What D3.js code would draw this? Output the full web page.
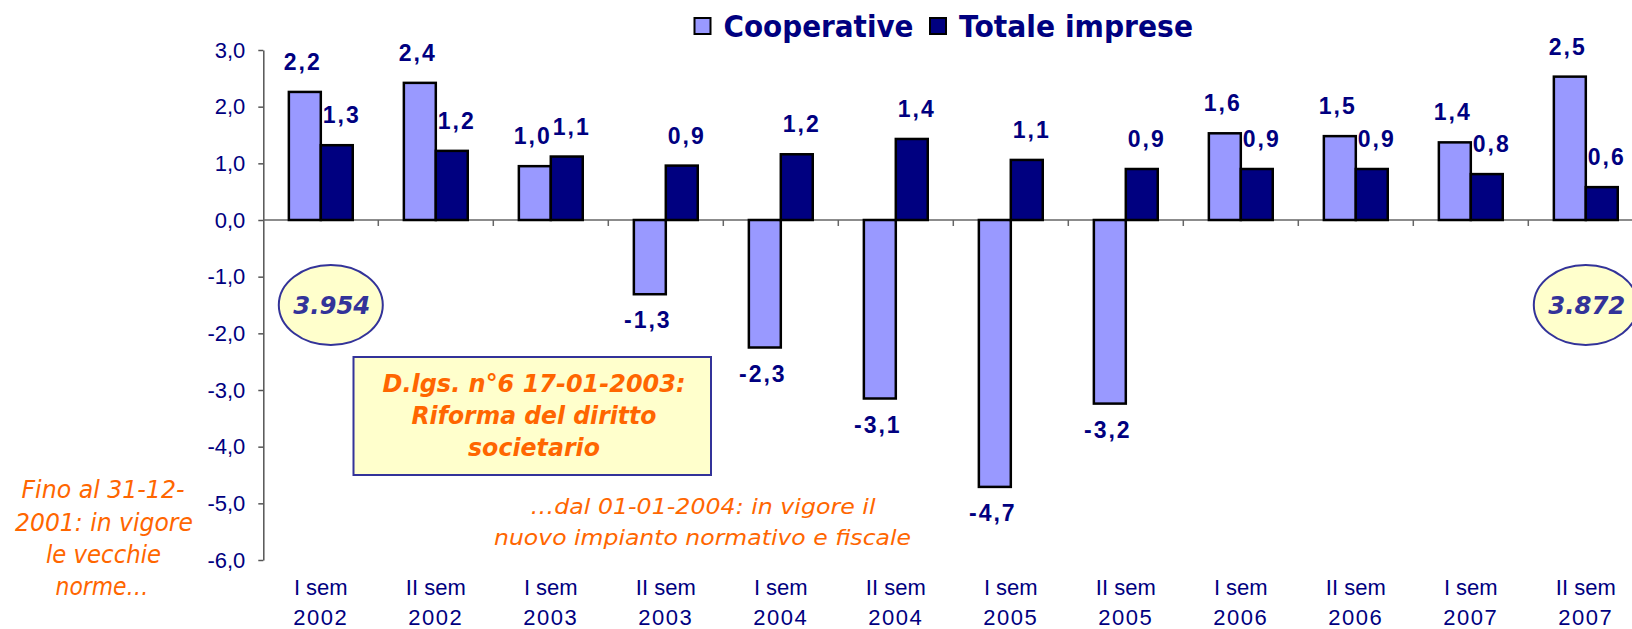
<!DOCTYPE html>
<html>
<head>
<meta charset="utf-8">
<script src="https://cdn.jsdelivr.net/npm/d3@7"></script>
<style>
  body { margin: 0; background: #fff; overflow: hidden; }
</style>
</head>
<body>
<script>
// data
const categories = ["I sem 2002", "II sem 2002", "I sem 2003", "II sem 2003", "I sem 2004", "II sem 2004",
                    "I sem 2005", "II sem 2005", "I sem 2006", "II sem 2006", "I sem 2007", "II sem 2007"]
const series = ["Cooperative", "Totale imprese"]
const cooperative = [2.26, 2.42, 0.95, -1.31, -2.25, -3.15, -4.71, -3.24, 1.53, 1.48, 1.37, 2.53]
const totale = [1.32, 1.22, 1.12, 0.96, 1.16, 1.43, 1.06, 0.90, 0.90, 0.90, 0.81, 0.58]
const coopLabels = ["2,2", "2,4", "1,0", "-1,3", "-2,3", "-3,1", "-4,7", "-3,2", "1,6", "1,5", "1,4", "2,5"]
const totLabels = ["1,3", "1,2", "1,1", "0,9", "1,2", "1,4", "1,1", "0,9", "0,9", "0,9", "0,8", "0,6"]
const yTicks = [3, 2, 1, 0, -1, -2, -3, -4, -5, -6]
const counts = ["3.954", "3.872"]

const w = 1632
const h = 629
const navy = "#000080"
const orange = "#FF6600"
const colors = ["#9999FF", "#000080"]

const svg = d3.select("body")
  .append("svg")
  .attr("width", w)
  .attr("height", h)
  .style("background-color", "#fff")

//scales
const xScale = d3.scaleBand()
  .domain(categories)
  .range([263.3, 263.3 + 115 * categories.length])

const xSub = d3.scaleBand()
  .domain(series)
  .range([0, xScale.bandwidth()])
  .paddingOuter(0.8)

const yScale = d3.scaleLinear()
  .domain([-6, 3])
  .range([560, 50])

//Y-Axis
const yAxis = d3.axisLeft(yScale)
  .tickValues(yTicks)
  .tickSize(5)
  .tickSizeOuter(0)
  .tickPadding(13)
  .tickFormat(d => d3.format(".1f")(d).replace("\u2212", "-").replace(".", ","))

const gy = svg.append("g")
  .attr("transform", "translate(" + xScale.range()[0] + ",0)")
  .call(yAxis)
gy.select(".domain").attr("stroke", "#555").attr("stroke-width", 1.5)
gy.selectAll(".tick line").attr("stroke", "#555").attr("stroke-width", 1.5)
gy.selectAll(".tick text")
  .attr("fill", navy)
  .style("font-family", "'Liberation Sans', Arial, sans-serif")
  .style("font-size", "22px")

//X-Axis line at zero
const y0 = yScale(0)
svg.append("line")
  .attr("x1", xScale.range()[0]).attr("x2", xScale.range()[1])
  .attr("y1", y0).attr("y2", y0)
  .attr("stroke", "#666").attr("stroke-width", 1.5)

svg.selectAll(".xtick")
  .data(categories.slice(1))
  .enter()
  .append("line")
  .attr("class", "xtick")
  .attr("x1", d => xScale(d)).attr("x2", d => xScale(d))
  .attr("y1", y0).attr("y2", y0 + 6)
  .attr("stroke", "#666").attr("stroke-width", 1.5)

//category labels, two lines
const labStyle = sel => sel
  .attr("text-anchor", "middle")
  .attr("fill", navy)
  .style("font-family", "'Liberation Sans', Arial, sans-serif")
  .style("font-size", "22px")

svg.selectAll(".xsem")
  .data(categories)
  .enter()
  .append("text")
  .attr("class", "xsem")
  .call(labStyle)
  .attr("x", d => xScale(d) + xScale.bandwidth() / 2)
  .attr("y", 595)
  .text(d => d.slice(0, d.lastIndexOf(" ")))

svg.selectAll(".xyear")
  .data(categories)
  .enter()
  .append("text")
  .attr("class", "xyear")
  .call(labStyle)
  .attr("x", d => xScale(d) + xScale.bandwidth() / 2)
  .attr("y", 625)
  .style("letter-spacing", "1.5px")
  .text(d => d.slice(d.lastIndexOf(" ") + 1))

//bars
const rows = categories.map((c, i) => ({ cat: c, vals: [cooperative[i], totale[i]], labs: [coopLabels[i], totLabels[i]] }))

const groups = svg.selectAll(".grp")
  .data(rows)
  .enter()
  .append("g")
  .attr("class", "grp")
  .attr("transform", d => "translate(" + xScale(d.cat) + ",0)")

groups.selectAll("rect")
  .data(d => series.map((s, j) => ({ s: s, v: d.vals[j], lab: d.labs[j], j: j })))
  .enter()
  .append("rect")
  .attr("x", d => xSub(d.s))
  .attr("width", xSub.bandwidth())
  .attr("y", d => yScale(Math.max(0, d.v)))
  .attr("height", d => Math.abs(yScale(d.v) - y0))
  .attr("fill", d => colors[d.j])
  .attr("stroke", "#000")
  .attr("stroke-width", 2.5)

groups.selectAll(".lab")
  .data(d => series.map((s, j) => ({ s: s, v: d.vals[j], lab: d.labs[j], j: j })))
  .enter()
  .append("text")
  .attr("class", "lab")
  .attr("text-anchor", "middle")
  .attr("x", d => xSub(d.s) + xSub.bandwidth() / 2 + (d.j == 0 ? -2 : 5))
  .attr("y", d => d.v >= 0 ? yScale(d.v) - 22 : yScale(d.v) + 34)
  .attr("fill", navy)
  .style("font-family", "'Liberation Sans', Arial, sans-serif")
  .style("font-weight", "bold")
  .style("font-size", "23px")
  .style("letter-spacing", "2px")
  .text(d => d.lab)

//legend
const legX = [694.5, 930]
const legW = [190, 234]
series.forEach((s, i) => {
  svg.append("rect")
    .attr("x", legX[i]).attr("y", 18)
    .attr("width", 16).attr("height", 16)
    .attr("fill", colors[i])
    .attr("stroke", "#000").attr("stroke-width", 2)
  svg.append("text")
    .attr("x", legX[i] + 29).attr("y", 37)
    .attr("fill", navy)
    .attr("textLength", legW[i])
    .attr("lengthAdjust", "spacingAndGlyphs")
    .style("font-family", "'DejaVu Sans', Verdana, sans-serif")
    .style("font-weight", "bold")
    .style("font-size", "30px")
    .text(s)
})

//ellipses with counts
const ellX = [xScale(categories[0]) + xScale.bandwidth() / 2 + 10, xScale(categories[11]) + xScale.bandwidth() / 2]
counts.forEach((c, i) => {
  svg.append("ellipse")
    .attr("cx", ellX[i]).attr("cy", yScale(-1.5))
    .attr("rx", 52).attr("ry", 40)
    .attr("fill", "#FFFFCC")
    .attr("stroke", "#333399").attr("stroke-width", 2)
  svg.append("text")
    .attr("x", ellX[i] + 1).attr("y", yScale(-1.5) + 9)
    .attr("text-anchor", "middle")
    .attr("fill", "#333399")
    .attr("textLength", 77)
    .attr("lengthAdjust", "spacingAndGlyphs")
    .style("font-family", "'DejaVu Sans', Verdana, sans-serif")
    .style("font-weight", "bold")
    .style("font-style", "italic")
    .style("font-size", "25px")
    .text(c)
})

//box note
svg.append("rect")
  .attr("x", 353.5).attr("y", 357)
  .attr("width", 357.5).attr("height", 118)
  .attr("fill", "#FFFFCC")
  .attr("stroke", "#333399").attr("stroke-width", 2)

const boxLines = [["D.lgs. n°6 17-01-2003:", 392, 303], ["Riforma del diritto", 424, 245], ["societario", 456, 132]]
boxLines.forEach(l => {
  svg.append("text")
    .attr("x", 534).attr("y", l[1])
    .attr("text-anchor", "middle")
    .attr("fill", orange)
    .attr("textLength", l[2])
    .attr("lengthAdjust", "spacingAndGlyphs")
    .style("font-family", "'DejaVu Sans', Verdana, sans-serif")
    .style("font-weight", "bold")
    .style("font-style", "italic")
    .style("font-size", "25px")
    .text(l[0])
})

//free notes
const notes = [
  ["…dal 01-01-2004: in vigore il", 703, 514, 345, 22],
  ["nuovo impianto normativo e fiscale", 702.5, 545, 417, 22],
  ["Fino al 31-12-", 103, 498, 163, 24],
  ["2001: in vigore", 104, 530.5, 178, 24],
  ["le vecchie", 103.5, 562.5, 115, 24],
  ["norme…", 102, 595, 93, 24]
]
notes.forEach(n => {
  svg.append("text")
    .attr("x", n[1]).attr("y", n[2])
    .attr("text-anchor", "middle")
    .attr("fill", orange)
    .attr("textLength", n[3])
    .attr("lengthAdjust", "spacingAndGlyphs")
    .style("font-family", "'DejaVu Sans', Verdana, sans-serif")
    .style("font-style", "italic")
    .style("font-size", n[4] + "px")
    .text(n[0])
})
</script>
</body>
</html>
